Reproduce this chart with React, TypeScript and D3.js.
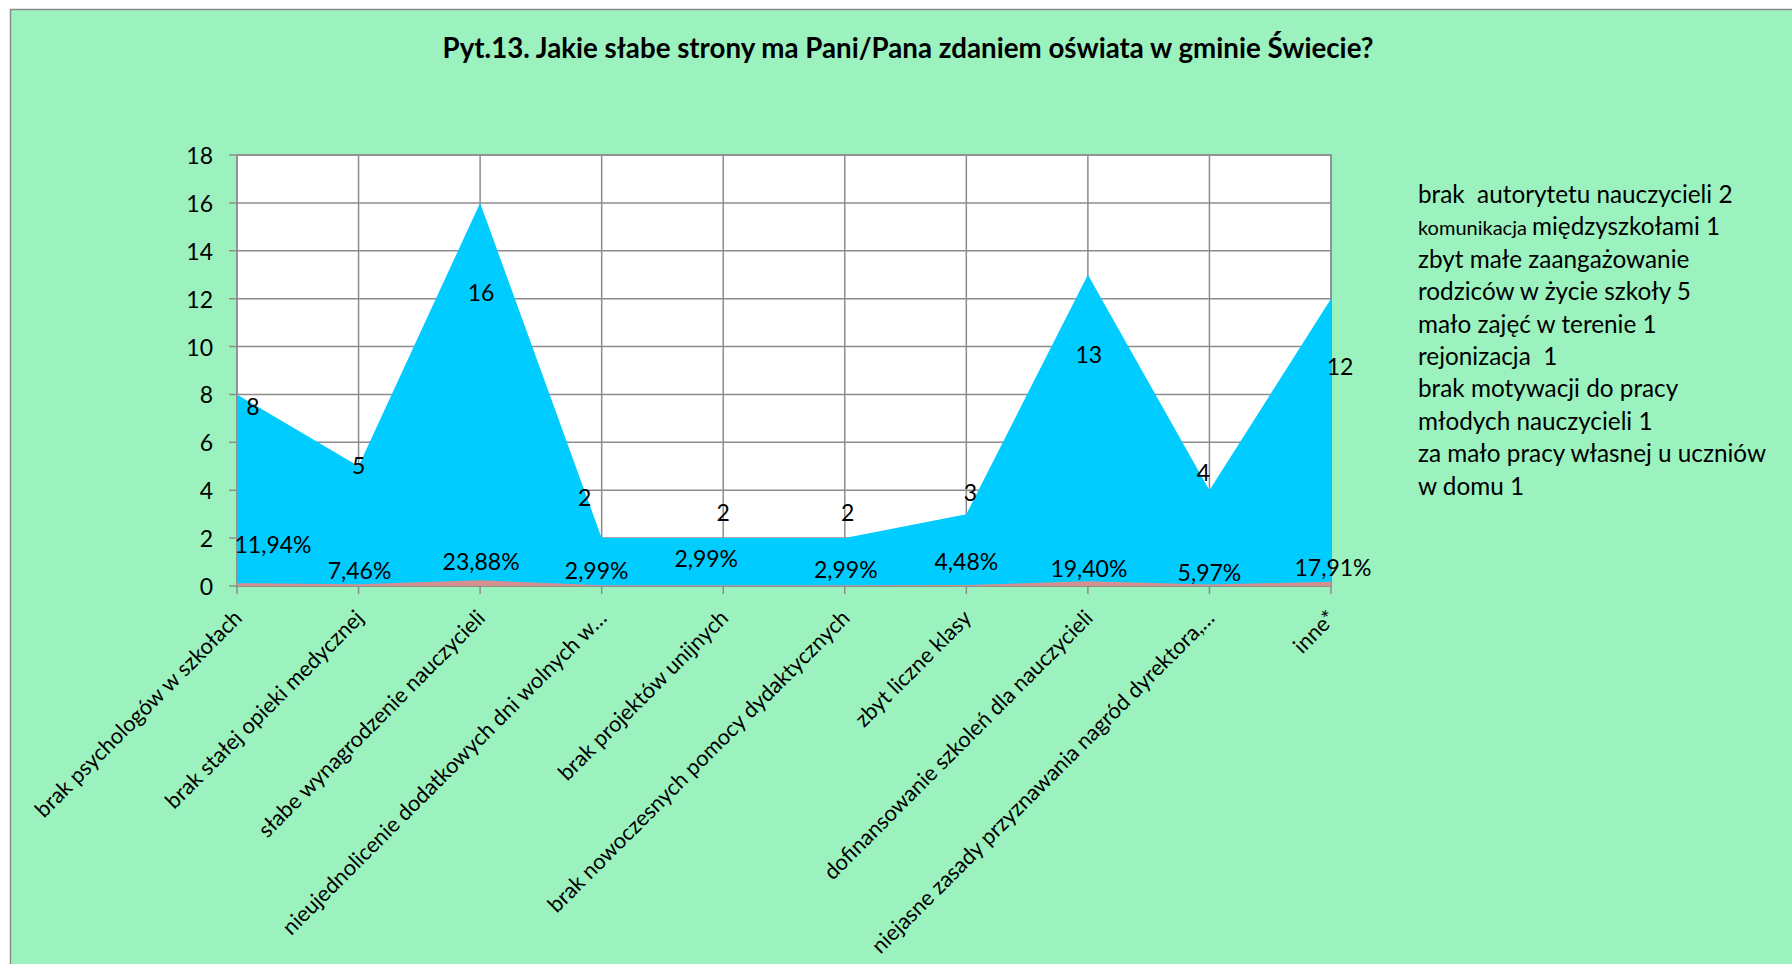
import { area, scaleLinear, scalePoint } from "d3";

// answer categories (x axis)
const categories = [
  "brak psychologów w szkołach",
  "brak stałej opieki medycznej",
  "słabe wynagrodzenie nauczycieli",
  "nieujednolicenie dodatkowych dni wolnych w…",
  "brak projektów unijnych",
  "brak nowoczesnych pomocy dydaktycznych",
  "zbyt liczne klasy",
  "dofinansowanie szkoleń dla nauczycieli",
  "niejasne zasady przyznawania nagród dyrektora,…",
  "inne*",
];

// number of answers
const counts = [8, 5, 16, 2, 2, 2, 3, 13, 4, 12];

// share of answers (second series, plotted as fractions)
const shares = [0.1194, 0.0746, 0.2388, 0.0299, 0.0299, 0.0299, 0.0448, 0.194, 0.0597, 0.1791];
const shareLabels = ["11,94%", "7,46%", "23,88%", "2,99%", "2,99%", "2,99%", "4,48%", "19,40%", "5,97%", "17,91%"];

const yTicks = [0, 2, 4, 6, 8, 10, 12, 14, 16, 18];

// notes on the right ("inne*")
const notes: { small?: string; text: string }[] = [
  { text: "brak\u00a0 autorytetu nauczycieli 2" },
  { small: "komunikacja ", text: "międzyszkołami 1" },
  { text: "zbyt małe zaangażowanie" },
  { text: "rodziców w życie szkoły 5" },
  { text: "mało zajęć w terenie 1" },
  { text: "rejonizacja\u00a0 1" },
  { text: "brak motywacji do pracy" },
  { text: "młodych nauczycieli 1" },
  { text: "za mało pracy własnej u uczniów" },
  { text: "w domu 1" },
];

// hand-moved label positions in the original, as pixel offsets from the point
const countLabelShift = [
  [16, 12], [0, -1], [1, 89], [-17, -41], [0, -26], [3, -26], [4, -22], [1, 79], [-6, -18], [9, 67],
];
const shareLabelShift = [
  [36, -39], [1, -14], [1, -19], [-5, -15], [-17, -27], [1, -16], [0, -24], [1, -13], [0, -13], [2, -15],
];

const font = "Lato, 'Open Sans', sans-serif";
const green = "#9cf2be";
const grid = "#8c8c8c";

export default function App() {
  const left = 237;
  const right = 1331;
  const top = 155;
  const bottom = 586;

  const x = scalePoint<string>().domain(categories).range([left, right]).padding(0);
  const y = scaleLinear().domain([0, 18]).range([bottom, top]);

  const countArea = area<number>()
    .x((_, i) => x(categories[i]) as number)
    .y0(y(0))
    .y1((d) => y(d));

  return (
    <svg
      width={1792}
      height={964}
      style={{ position: "absolute", left: 0, top: 0, background: "#fff" }}
      fontFamily={font}
    >
      <rect x={10.5} y={9.5} width={1800} height={1000} fill={green} stroke={grid} strokeWidth={1.5} />

      <text x={908} y={58} textAnchor="middle" fontWeight="bold" fontSize={27.7} fill="#000">
        Pyt.13. Jakie słabe strony ma Pani/Pana zdaniem oświata w gminie Świecie?
      </text>

      {/* plot area */}
      <rect x={left} y={top} width={right - left} height={bottom - top} fill="#fff" />
      {yTicks.map((t) => (
        <line key={"h" + t} x1={left - 8} x2={right} y1={y(t)} y2={y(t)} stroke={grid} strokeWidth={1.5} />
      ))}
      {categories.map((c) => (
        <line key={"v" + c} x1={x(c)} x2={x(c)} y1={top} y2={bottom + 8} stroke={grid} strokeWidth={1.5} />
      ))}
      <rect x={left} y={top} width={right - left} height={bottom - top} fill="none" stroke={grid} strokeWidth={1.5} />

      <path d={countArea(counts) ?? ""} fill="#00ccff" />
      <path d={countArea(shares) ?? ""} fill="#d4918f" />

      {/* y axis labels */}
      {yTicks.map((t) => (
        <text key={"yl" + t} x={213} y={y(t)} textAnchor="end" dominantBaseline="central" fontSize={23}>
          {t}
        </text>
      ))}

      {/* data labels */}
      {counts.map((v, i) => (
        <text
          key={"cl" + i}
          x={(x(categories[i]) as number) + countLabelShift[i][0]}
          y={y(v) + countLabelShift[i][1]}
          textAnchor="middle"
          dominantBaseline="central"
          fontSize={23}
        >
          {v}
        </text>
      ))}
      {shares.map((v, i) => (
        <text
          key={"sl" + i}
          x={(x(categories[i]) as number) + shareLabelShift[i][0]}
          y={y(v) + shareLabelShift[i][1]}
          textAnchor="middle"
          dominantBaseline="central"
          fontSize={23}
        >
          {shareLabels[i]}
        </text>
      ))}

      {/* category labels */}
      {categories.map((c) => (
        <text
          key={"xl" + c}
          transform={`translate(${(x(c) as number) + 1}, 614) rotate(-45)`}
          textAnchor="end"
          dy="0.35em"
          fontSize={21.8}
        >
          {c}
        </text>
      ))}

      {/* notes */}
      {notes.map((n, i) => (
        <text key={"n" + i} x={1418} y={203 + i * 32.4} fontSize={24.3}>
          {n.small && <tspan fontSize={20}>{n.small}</tspan>}
          <tspan>{n.text}</tspan>
        </text>
      ))}
    </svg>
  );
}
